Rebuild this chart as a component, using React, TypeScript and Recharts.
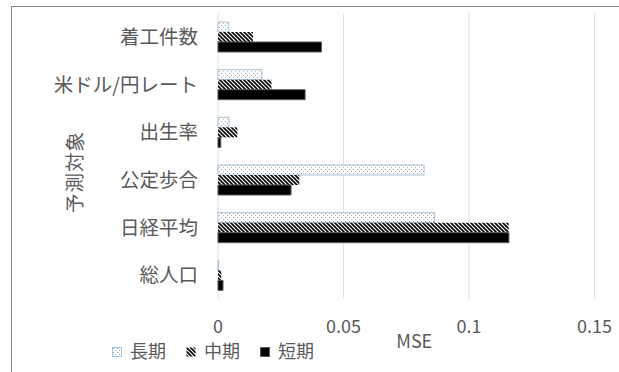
import React from 'react';
import { BarChart, Bar, XAxis, YAxis, CartesianGrid, Legend, Label } from 'recharts';

const categories = ['着工件数', '米ドル/円レート', '出生率', '公定歩合', '日経平均', '総人口'];
const longTerm = [0.0043, 0.0175, 0.0044, 0.0821, 0.0863, 0.0003];
const midTerm = [0.0139, 0.0213, 0.0077, 0.0324, 0.1158, 0.0013];
const shortTerm = [0.0412, 0.0347, 0.0011, 0.0291, 0.1159, 0.002];
const xTicks = [0, 0.05, 0.1, 0.15];
const seriesNames = ['長期', '中期', '短期'];

const data = categories.map((name, i) => ({
  name,
  long: longTerm[i],
  mid: midTerm[i],
  short: shortTerm[i],
}));

const FONT = '"Noto Sans CJK JP", "Noto Sans", sans-serif';
const TEXT = '#595959';

const seriesStyle = [
  { key: 'long', fill: 'url(#dotPat)', stroke: '#a3c3da' },
  { key: 'mid', fill: 'url(#hatchPat)', stroke: 'none' },
  { key: 'short', fill: '#000000', stroke: '#595959' },
];

const YTick = (props: any) => {
  const { x, y, payload } = props;
  return (
    <text x={x} y={y} dy="0.36em" textAnchor="end" fill={TEXT} fontSize={19.5} fontFamily={FONT}>
      {payload.value}
    </text>
  );
};

const XTick = (props: any) => {
  const { x, y, payload } = props;
  return (
    <text x={x} y={y + 33.5} textAnchor="middle" fill={TEXT} fontSize={18} fontFamily={FONT}>
      {String(payload.value)}
    </text>
  );
};

const MseLabel = (props: any) => {
  const vb = props.viewBox || {};
  return (
    <text x={vb.x + vb.width / 2 + 8} y={vb.y + 48.5} textAnchor="middle" fill={TEXT} fontSize={18} fontFamily={FONT}>
      MSE
    </text>
  );
};

const TitleLabel = (props: any) => {
  const vb = props.viewBox || {};
  const cx = vb.x + 73;
  const cy = vb.y + vb.height / 2 + 16;
  return (
    <text x={cx} y={cy} transform={`rotate(-90, ${cx}, ${cy})`} textAnchor="middle" dominantBaseline="central" fill={TEXT} fontSize={19.5} letterSpacing={1} fontFamily={FONT}>
      予測対象
    </text>
  );
};

const LegendContent = () => (
  <div style={{ display: 'flex', alignItems: 'center', paddingLeft: 112, height: 24, fontFamily: FONT, fontSize: 18, color: TEXT }}>
    {seriesNames.map((n, i) => (
      <div key={n} style={{ display: 'flex', alignItems: 'center', marginRight: 20 }}>
        <svg width={10} height={10} style={{ display: 'block', marginTop: 3 }}>
          <rect x={0.5} y={0.5} width={9} height={9} fill={seriesStyle[i].fill} stroke={seriesStyle[i].stroke === 'none' ? 'none' : seriesStyle[i].stroke} />
        </svg>
        <span style={{ marginLeft: 8, lineHeight: '24px' }}>{n}</span>
      </div>
    ))}
  </div>
);

export default function App() {
  return (
    <div style={{ position: 'absolute', left: 0, top: 0, width: 619, height: 372, background: '#fff', overflow: 'hidden' }}>
      <svg width={0} height={0} style={{ position: 'absolute' }}>
        <defs>
          <pattern id="dotPat" patternUnits="userSpaceOnUse" width={4} height={4}>
            <rect x={0} y={0} width={4} height={4} fill="#ffffff" />
            <rect x={1} y={1} width={1} height={1} fill="#9a9a9a" />
            <rect x={3} y={3} width={1} height={1} fill="#b5b5b5" />
          </pattern>
          <pattern id="hatchPat" patternUnits="userSpaceOnUse" width={4} height={4}>
            <rect x={0} y={0} width={4} height={4} fill="#ffffff" />
            <path d="M-1,-1 L5,5 M-1,3 L1,5 M3,-1 L5,1" stroke="#000" strokeWidth={1.6} />
          </pattern>
        </defs>
      </svg>
      <div style={{ position: 'absolute', left: 11, top: 6, width: 620, height: 380, borderTop: '1.5px solid #858585', borderLeft: '1.5px solid #858585', boxSizing: 'border-box' }} />
      <div style={{ position: 'absolute', left: 0, top: 0 }}>
        <BarChart
          width={619}
          height={372}
          data={data}
          layout="vertical"
          margin={{ top: 13, right: 24.5, bottom: 0, left: 0 }}
          barGap={0}
          barSize={10}
        >
          <CartesianGrid horizontal={false} vertical stroke="#e0e0e0" strokeWidth={1} />
          <XAxis
            type="number"
            domain={[0, 0.15]}
            ticks={xTicks}
            axisLine={false}
            tickLine={false}
            tickSize={0}
            tickMargin={0}
            height={73}
            tick={<XTick />}
            interval={0}
          >
            <Label content={<MseLabel />} />
          </XAxis>
          <YAxis
            type="category"
            dataKey="name"
            width={218}
            axisLine={false}
            tickLine={false}
            tickSize={0}
            tickMargin={20}
            tick={<YTick />}
            interval={0}
          >
            <Label content={<TitleLabel />} />
          </YAxis>
          <Legend
            layout="horizontal"
            verticalAlign="middle"
            align="center"
            wrapperStyle={{ left: 0, top: 338, width: 619, height: 24 }}
            content={<LegendContent />}
          />
          {seriesStyle.map((s, i) => (
            <Bar
              key={s.key}
              dataKey={s.key}
              name={seriesNames[i]}
              fill={s.fill}
              stroke={s.stroke}
              strokeWidth={1}
              isAnimationActive={false}
            />
          ))}
        </BarChart>
      </div>
    </div>
  );
}
